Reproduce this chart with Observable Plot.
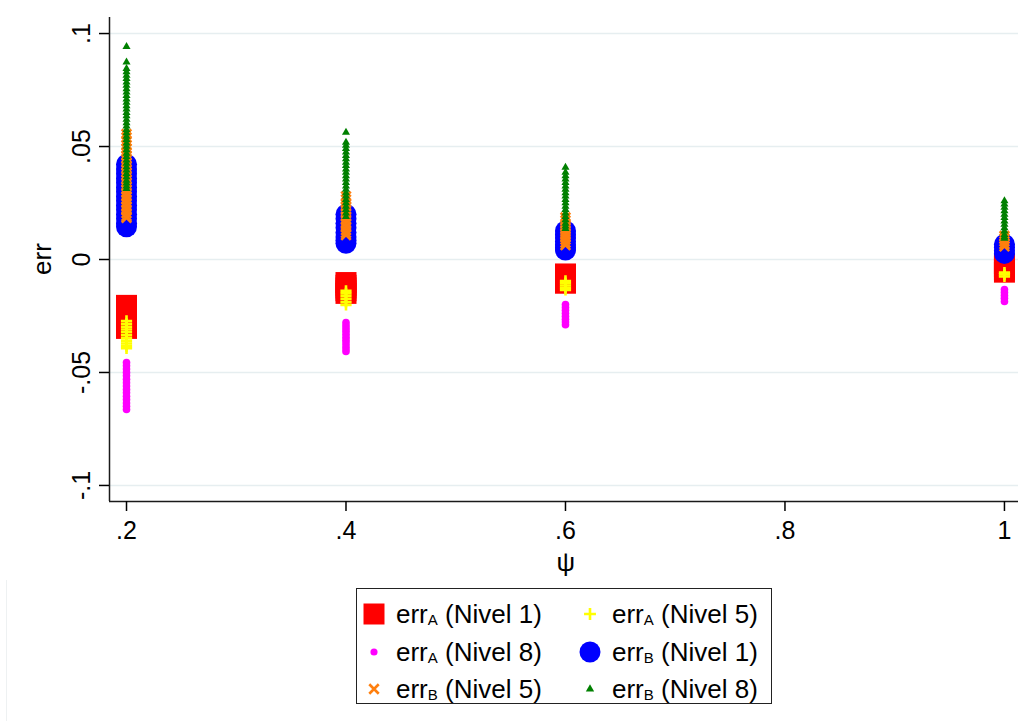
<!DOCTYPE html>
<html><head><meta charset="utf-8">
<script src="https://cdn.jsdelivr.net/npm/d3@7"></script>
<script src="https://cdn.jsdelivr.net/npm/@observablehq/plot@0.6"></script>
<style>
body{margin:0;background:#fff;font-family:"Liberation Sans",Arial,sans-serif;}
#wrap{position:relative;width:1018px;height:721px;overflow:hidden;background:#fff;}
#edge{position:absolute;left:6px;top:6px;width:1px;height:715px;background:#eef1f2;}
#chart{position:absolute;left:0;top:0;}
.axlab{position:absolute;font-size:26px;line-height:1;color:#000;white-space:nowrap;transform-origin:center center;}
#legend{position:absolute;left:356px;top:588px;width:414px;height:114px;border:1.5px solid #222;background:#fff;}
.item{position:absolute;display:flex;align-items:center;height:32px;font-size:26px;white-space:nowrap;color:#000;}
.item sub{font-size:15px;vertical-align:-2px;line-height:0;}
</style></head><body>
<div id="wrap"><div id="edge"></div><div id="chart"></div>
<div class="axlab" id="ylab">err</div><div class="axlab" id="xlab">ψ</div>
<div id="legend"></div></div>
<script>
// x categories (psi)
const psi = [0.2, 0.4, 0.6, 1];
const xTicks = [0.2, 0.4, 0.6, 0.8, 1];
const xTickLabels = [".2", ".4", ".6", ".8", "1"];
const yTicks = [-0.1, -0.05, 0, 0.05, 0.1];
const yTickLabels = ["-.1", "-.05", "0", ".05", ".1"];
const xTitle = "ψ";
const yTitle = "err";

// values per psi (one inner list per psi value)
const errA_n1 = [
  [-0.0203, -0.0215, -0.0228, -0.0240, -0.0252, -0.0265, -0.0278, -0.0290, -0.0305],
  [-0.0102, -0.0114, -0.0126, -0.0138, -0.0150],
  [-0.0064, -0.0075, -0.0085, -0.0095, -0.0105],
  [-0.0020, -0.0032, -0.0044, -0.0056]
];
const errA_n5 = [
  [-0.0272, -0.0285, -0.0298, -0.0310, -0.0322, -0.0335, -0.0348, -0.0360, -0.0372, -0.0383, -0.0393],
  [-0.0139, -0.0150, -0.0162, -0.0175, -0.0188, -0.0201],
  [-0.0095, -0.0105, -0.0115, -0.0125, -0.0135],
  [-0.0058, -0.0066, -0.0075]
];
const errA_n8 = [
  [-0.0456, -0.0470, -0.0485, -0.0500, -0.0515, -0.0530, -0.0545, -0.0560, -0.0575, -0.0590, -0.0605, -0.0620, -0.0635, -0.0650, -0.0664],
  [-0.0279, -0.0292, -0.0305, -0.0318, -0.0331, -0.0344, -0.0357, -0.0370, -0.0383, -0.0395, -0.0407],
  [-0.0199, -0.0212, -0.0225, -0.0238, -0.0251, -0.0264, -0.0277, -0.0289],
  [-0.0133, -0.0146, -0.0159, -0.0172, -0.0186]
];
const errB_n1 = [
  [0.0421, 0.0400, 0.0380, 0.0360, 0.0340, 0.0320, 0.0300, 0.0280, 0.0260, 0.0240, 0.0220, 0.0200, 0.0180, 0.0160, 0.0145],
  [0.0200, 0.0180, 0.0160, 0.0140, 0.0120, 0.0100, 0.0085, 0.0072],
  [0.0126, 0.0110, 0.0095, 0.0080, 0.0065, 0.0052, 0.0042],
  [0.0067, 0.0054, 0.0040, 0.0027]
];
const errB_n5 = [
  [0.0555, 0.0540, 0.0525, 0.0505, 0.0490, 0.0475, 0.0460, 0.0445, 0.0430, 0.0415, 0.0400, 0.0385, 0.0370, 0.0355, 0.0340, 0.0325, 0.0310, 0.0295, 0.0280, 0.0265, 0.0250, 0.0235, 0.0220, 0.0205, 0.0192, 0.0184],
  [0.0279, 0.0265, 0.0250, 0.0235, 0.0220, 0.0205, 0.0190, 0.0175, 0.0160, 0.0145, 0.0130, 0.0118, 0.0108],
  [0.0186, 0.0172, 0.0158, 0.0144, 0.0130, 0.0116, 0.0102, 0.0088, 0.0075, 0.0064],
  [0.0104, 0.0092, 0.0080, 0.0068, 0.0058]
];
const errB_n8 = [
  [0.0942, 0.0873, 0.0845, 0.0830, 0.0815, 0.0800, 0.0785, 0.0770, 0.0755, 0.0740, 0.0725, 0.0710, 0.0695, 0.0680, 0.0665, 0.0650, 0.0635, 0.0620, 0.0605, 0.0590, 0.0575, 0.0560, 0.0545, 0.0530, 0.0515, 0.0500, 0.0485, 0.0470, 0.0455, 0.0440, 0.0425, 0.0410, 0.0395, 0.0380, 0.0365, 0.0350, 0.0338, 0.0325, 0.0314],
  [0.0562, 0.0518, 0.0505, 0.0490, 0.0475, 0.0460, 0.0445, 0.0430, 0.0415, 0.0400, 0.0385, 0.0370, 0.0355, 0.0340, 0.0325, 0.0310, 0.0295, 0.0280, 0.0265, 0.0250, 0.0235, 0.0220, 0.0205, 0.0190],
  [0.0407, 0.0385, 0.0370, 0.0355, 0.0340, 0.0325, 0.0310, 0.0295, 0.0280, 0.0265, 0.0250, 0.0235, 0.0220, 0.0205, 0.0190, 0.0175, 0.0160, 0.0148, 0.0137],
  [0.0259, 0.0245, 0.0230, 0.0215, 0.0200, 0.0185, 0.0170, 0.0155, 0.0140, 0.0125, 0.0110, 0.0100, 0.0093]
];

const seriesKeys = ["A1", "A5", "A8", "B1", "B5", "B8"];
const seriesValues = [errA_n1, errA_n5, errA_n8, errB_n1, errB_n5, errB_n8];
const seriesSub = ["A", "A", "A", "B", "B", "B"];
const seriesLevel = ["Nivel 1", "Nivel 5", "Nivel 8", "Nivel 1", "Nivel 5", "Nivel 8"];

// styles (kept separate from data)
const styles = {
  A1: {symbol: "square", r: 11.85, fill: "#ff0000", stroke: "none", sw: 0, lsize: 441, lsym: d3.symbolSquare},
  A5: {symbol: "plus", r: 3.7, fill: "none", stroke: "#ffff00", sw: 2.6, lsize: 48, lsym: d3.symbolPlus},
  A8: {symbol: "circle", r: 3.8, fill: "#ff00ff", stroke: "none", sw: 0, lsize: 40, lsym: d3.symbolCircle},
  B1: {symbol: "circle", r: 10.5, fill: "#0000ff", stroke: "none", sw: 0, lsize: 346, lsym: d3.symbolCircle},
  B5: {symbol: "times", r: 4.4, fill: "none", stroke: "#ff7f0e", sw: 2.6, lsize: 60, lsym: d3.symbolTimes},
  B8: {symbol: "triangle", r: 3.0, fill: "#008000", stroke: "none", sw: 0, lsize: 30, lsym: d3.symbolTriangle}
};

const xDomain = [0.1845, 1.0128];
const yDomain = [-0.1071, 0.1071];

const rows = [];
seriesKeys.forEach((k, si) => {
  seriesValues[si].forEach((vals, i) => {
    vals.forEach(v => rows.push({psi: psi[i], err: v, key: k}));
  });
});

const xLab = new Map(xTicks.map((t, i) => [t, xTickLabels[i]]));
const yLab = new Map(yTicks.map((t, i) => [t, yTickLabels[i]]));

const chart = Plot.plot({
  width: 1018,
  height: 580,
  marginLeft: 109,
  marginRight: 0,
  marginTop: 17,
  marginBottom: 79,
  x: {domain: xDomain},
  y: {domain: yDomain},
  style: {fontFamily: '"Liberation Sans", Arial, sans-serif', background: "white", overflow: "visible", color: "#000"},
  marks: [
    Plot.ruleY(yTicks, {stroke: "#e6eef0", strokeWidth: 1.6}),
    ...seriesKeys.map(k => {
      const st = styles[k];
      return Plot.dot(rows.filter(d => d.key === k), {
        x: "psi", y: "err", symbol: st.symbol, r: st.r,
        fill: st.fill, stroke: st.stroke, strokeWidth: st.sw
      });
    }),
    Plot.ruleX([xDomain[0]], {stroke: "#1a1a1a", strokeWidth: 1.5}),
    Plot.ruleY([yDomain[0]], {stroke: "#1a1a1a", strokeWidth: 1.5}),
    Plot.axisX({
      ticks: xTicks, tickFormat: d => xLab.get(d), tickSize: 10, tickPadding: 10,
      fontSize: 25, strokeWidth: 1.5, label: null
    }),
    Plot.axisY({
      ticks: yTicks, tickFormat: d => yLab.get(d), tickSize: 10, tickPadding: 10,
      tickRotate: -90, fontSize: 25, strokeWidth: 1.5, label: null
    })
  ]
});
document.getElementById("chart").appendChild(chart);

// axis titles
const yl = document.getElementById("ylab");
yl.textContent = yTitle;
const xl = document.getElementById("xlab");
xl.textContent = xTitle;
function place(el, cx, cy, rot) {
  const w = el.offsetWidth, h = el.offsetHeight;
  el.style.left = (cx - w / 2) + "px";
  el.style.top = (cy - h / 2) + "px";
  if (rot) el.style.transform = `rotate(${rot}deg)`;
}
place(yl, 42, 259, -90);
place(xl, 566, 562, 0);

// legend (HTML, below the SVG)
const legendCols = [17, 233];
const legendRows = [25, 63, 100];
const leg = document.getElementById("legend");
seriesKeys.forEach((k, i) => {
  const st = styles[k];
  const col = i % 2, row = Math.floor(i / 2);
  const div = document.createElement("div");
  div.className = "item";
  div.style.left = (legendCols[col] - 12) + "px";
  div.style.top = (legendRows[row] - 16) + "px";
  const path = d3.symbol(st.lsym, st.lsize)();
  div.innerHTML = `<svg width="24" height="24" viewBox="-12 -12 24 24"><path d="${path}" fill="${st.fill}" stroke="${st.stroke}" stroke-width="${st.sw}"/></svg>` +
    `<span style="margin-left:10px">err<sub>${seriesSub[i]}</sub> (${seriesLevel[i]})</span>`;
  leg.appendChild(div);
});
</script>
</body></html>
